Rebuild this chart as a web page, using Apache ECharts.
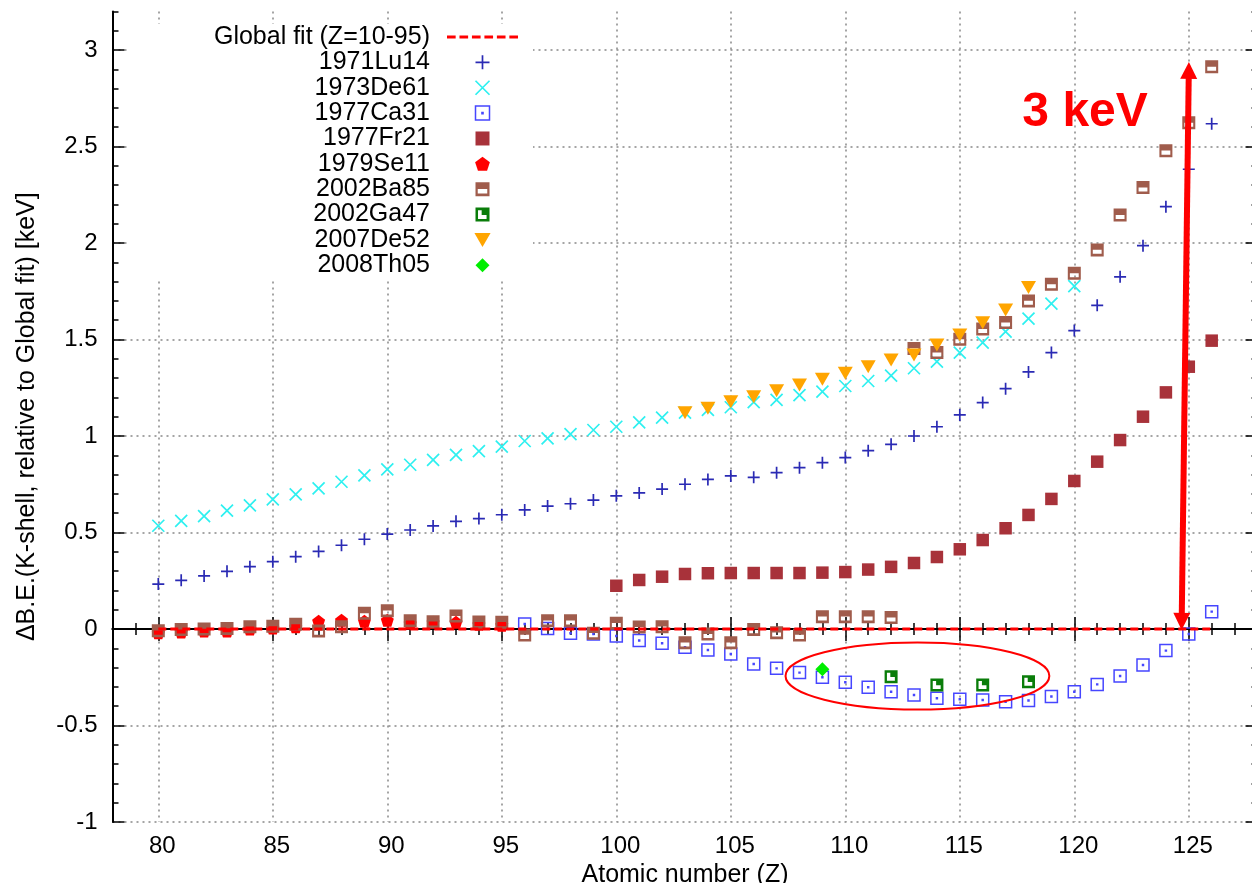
<!DOCTYPE html>
<html><head><meta charset="utf-8">
<script src="https://cdn.jsdelivr.net/npm/echarts@6/dist/echarts.min.js"></script>
<style>html,body{margin:0;padding:0;background:#fff}#chart{width:1252px;height:883px}</style>
</head><body><div id="chart"></div>
<script>
// ---------- tick labels ----------
const xTickLabels = [80, 85, 90, 95, 100, 105, 110, 115, 120, 125];
const yTickLabels = [-1, -0.5, 0, 0.5, 1, 1.5, 2, 2.5, 3];

// ---------- series data ----------
const fitZ = [80, 126];
const fitValues = [0, 0];

const lu14Z = [80,81,82,83,84,85,86,87,88,89,90,91,92,93,94,95,96,97,98,99,100,101,102,103,104,105,106,107,108,109,110,111,112,113,114,115,116,117,118,119,120,121,122,123,124,125,126];
const lu14Values = [0.233,0.252,0.275,0.299,0.323,0.349,0.375,0.402,0.434,0.465,0.492,0.513,0.534,0.558,0.572,0.592,0.617,0.637,0.649,0.668,0.690,0.705,0.725,0.750,0.775,0.793,0.786,0.810,0.836,0.862,0.888,0.924,0.957,1.000,1.048,1.109,1.173,1.245,1.332,1.432,1.546,1.677,1.825,1.986,2.188,2.382,2.618];

const de61Z = [80,81,82,83,84,85,86,87,88,89,90,91,92,93,94,95,96,97,98,99,100,101,102,103,104,105,106,107,108,109,110,111,112,113,114,115,116,117,118,119,120];
const de61Values = [0.535,0.560,0.585,0.613,0.641,0.672,0.698,0.729,0.763,0.796,0.827,0.851,0.876,0.902,0.922,0.945,0.974,0.988,1.010,1.031,1.048,1.071,1.095,1.121,1.135,1.149,1.175,1.187,1.212,1.230,1.259,1.285,1.313,1.351,1.385,1.432,1.484,1.541,1.608,1.686,1.777];

const ca31Z = [96,97,98,99,100,101,102,103,104,105,106,107,108,109,110,111,112,113,114,115,116,117,118,119,120,121,122,123,124,125,126];
const ca31Values = [0.026,0.003,-0.022,-0.026,-0.036,-0.060,-0.074,-0.095,-0.109,-0.130,-0.181,-0.204,-0.226,-0.250,-0.276,-0.302,-0.325,-0.342,-0.359,-0.364,-0.368,-0.377,-0.371,-0.350,-0.325,-0.287,-0.244,-0.187,-0.112,-0.026,0.090];

const fr21Z = [100,101,102,103,104,105,106,107,108,109,110,111,112,113,114,115,116,117,118,119,120,121,122,123,124,125,126];
const fr21Values = [0.224,0.254,0.271,0.285,0.289,0.290,0.290,0.290,0.290,0.292,0.295,0.308,0.322,0.342,0.373,0.413,0.461,0.522,0.591,0.674,0.767,0.867,0.979,1.100,1.226,1.359,1.494];

const se11Z = [80,81,82,83,84,85,86,87,88,89,90,91,92,93,94,95];
const se11Values = [-0.020,-0.015,-0.010,-0.010,0.000,0.005,0.012,0.040,0.045,0.040,0.045,0.030,0.035,0.035,0.025,0.020];

const ba85Z = [80,81,82,83,84,85,86,87,88,89,90,91,92,93,94,95,96,97,98,99,100,101,102,103,104,105,106,107,108,109,110,111,112,113,114,115,116,117,118,119,120,121,122,123,124,125,126];
const ba85Values = [-0.009,-0.003,0.000,0.003,0.012,0.014,0.024,-0.010,0.012,0.081,0.095,0.043,0.038,0.067,0.036,0.035,-0.031,0.043,0.043,-0.022,0.030,0.010,0.012,-0.071,-0.026,-0.071,-0.002,-0.019,-0.031,0.064,0.064,0.064,0.059,1.454,1.432,1.501,1.554,1.588,1.700,1.786,1.843,1.964,2.145,2.287,2.478,2.623,2.913];

const ga47Z = [112, 114, 116, 118];
const ga47Values = [-0.247, -0.290, -0.290, -0.273];

const de52Z = [103,104,105,106,107,108,109,110,111,112,113,114,115,116,117,118];
const de52Values = [1.121,1.144,1.178,1.204,1.235,1.264,1.294,1.325,1.359,1.394,1.420,1.472,1.523,1.587,1.653,1.769];

const th05Z = [109];
const th05Values = [-0.209];

// ---------- annotations (data coordinates) ----------
const annotTexts = ['3 keV'];
const annotTextPos = [[120.47, 2.677]];
const ellipseSpec = [[113.15, -0.2435, 5.76, 0.1736]]; // centre Z, centre value, radius Z, radius value
const arrowEnds = [[125.0, 2.894], [124.69, 0.039]];

// ---------- helpers / styles ----------
const pts = (zs, vs) => zs.map((z, i) => [z, vs[i]]);
const FONT = "'Liberation Sans', Arial, Helvetica, sans-serif";

const SYM_PLUS  = 'path://M5,0V10M0,5H10';
const SYM_CROSS = 'path://M0,0L10,10M10,0L0,10';
const SYM_OSQ   = 'path://M0,0H10V10H0Z M4.6,4.6H5.4V5.4H4.6Z';
const SYM_SQ    = 'path://M0,0H10V10H0Z';
const SYM_HSQ   = 'path://M0,0H10V10H0Z M1.6,4.9V8H8.4V4.9Z';
const SYM_LSQ   = 'path://M0,0H10V10H0Z M1.8,1.9V8.1H7.9V5.3H4.4V1.9Z';
const SYM_PENT  = 'path://M5,0L10,3.63L8.09,9.51H1.91L0,3.63Z';
const SYM_DTRI  = 'path://M0,0H10L5,8.66Z';
const SYM_DIAM  = 'path://M5,0L10,5L5,10L0,5Z';
const DASH_ICON = 'path://M0,0h8.6v3h-8.6z M12.4,0h8.6v3h-8.6z M24.8,0h8.6v3h-8.6z M37.2,0h8.6v3h-8.6z M49.6,0h8.6v3h-8.6z M62,0h8.6v3h-8.6z';

const gridRect = {left: 112.5, right: -5.5, top: 11.4, bottom: 61, outerBoundsMode: 'none', containLabel: false};
const axisLineStyle = {show: true, lineStyle: {color: '#000', width: 2}};

function majorX(pos, withLabels) {
  return {
    type: 'value', gridIndex: 0, position: pos, min: 78, max: 128,
    axisLine: axisLineStyle,
    axisTick: {show: true, inside: true, length: 12, customValues: xTickLabels, lineStyle: {color: '#000', width: 1.5}},
    axisLabel: withLabels ? {show: true, customValues: xTickLabels, fontSize: 24, fontFamily: FONT, color: '#000', margin: 12, padding: [0, 0, 0, 8]} : {show: false},
    splitLine: withLabels ? {show: true, lineStyle: {color: '#888', width: 1.5, type: [2, 4]}} : {show: false},
    name: withLabels ? 'Atomic number (Z)' : '',
    nameLocation: 'middle', nameGap: 36,
    nameTextStyle: {fontSize: 25, fontFamily: FONT, color: '#000'}
  };
}
function majorY(pos, withLabels) {
  return {
    type: 'value', gridIndex: 0, position: pos, min: -1, max: 3.2,
    axisLine: axisLineStyle,
    axisTick: {show: true, inside: true, length: 12, customValues: yTickLabels, lineStyle: {color: '#000', width: 1.5}},
    axisLabel: withLabels ? {show: true, customValues: yTickLabels, fontSize: 24, fontFamily: FONT, color: '#000', margin: 15} : {show: false},
    splitLine: withLabels ? {show: true, lineStyle: {color: '#888', width: 1.5, type: [2, 4]}} : {show: false},
    name: withLabels ? 'ΔB.E.(K-shell, relative to Global fit) [keV]' : '',
    nameLocation: 'middle', nameGap: 73, nameRotate: 90,
    nameTextStyle: {fontSize: 25, fontFamily: FONT, color: '#000'}
  };
}
function minorX(pos) {
  return {
    type: 'value', gridIndex: 1, position: pos, min: 78, max: 128, interval: 1,
    axisLine: {show: false},
    axisTick: {show: true, inside: true, length: 6, lineStyle: {color: '#000', width: 1.5}},
    axisLabel: {show: false}, splitLine: {show: false}
  };
}
function minorY(pos) {
  return {
    type: 'value', gridIndex: 1, position: pos, min: -1, max: 3.2, interval: 0.1,
    axisLine: {show: false},
    axisTick: {show: true, inside: true, length: 6, lineStyle: {color: '#000', width: 1.5}},
    axisLabel: {show: false}, splitLine: {show: false}
  };
}

function scatter(name, zs, vs, symbol, size, style) {
  return {
    name, type: 'scatter', xAxisIndex: 0, yAxisIndex: 0,
    data: pts(zs, vs), symbol, symbolSize: size,
    itemStyle: Object.assign({opacity: 1}, style),
    emphasis: {disabled: true}
  };
}

const chart = echarts.init(document.getElementById('chart'), null, {renderer: 'canvas'});
chart.setOption({
  animation: false,
  backgroundColor: '#fff',
  grid: [Object.assign({}, gridRect), Object.assign({}, gridRect)],
  xAxis: [majorX('bottom', true), majorX('top', false), minorX('bottom'), minorX('top')],
  yAxis: [majorY('left', true), majorY('right', false), minorY('left'), minorY('right')],
  legend: {
    orient: 'vertical', align: 'right', right: 719, top: 24,
    padding: [0.5, 15, 1, 86], backgroundColor: '#fff',
    itemWidth: 71, itemHeight: 14, itemGap: 0.37, selectedMode: false,
    textStyle: {fontSize: 25, fontFamily: FONT, color: '#000', lineHeight: 25, padding: [0, 12, 0, 0]},
    itemStyle: {borderWidth: 'inherit'},
    data: [
      {name: 'Global fit (Z=10-95)', icon: DASH_ICON},
      '1971Lu14', '1973De61', '1977Ca31', '1977Fr21', '1979Se11', '2002Ba85', '2002Ga47', '2007De52', '2008Th05'
    ]
  },
  series: [
    {
      name: 'Global fit (Z=10-95)', type: 'line', xAxisIndex: 0, yAxisIndex: 0,
      data: pts(fitZ, fitValues), symbol: 'none', showSymbol: false,
      lineStyle: {color: '#ff0000', width: 3, type: [8, 4]},
      itemStyle: {color: '#ff0000'},
      emphasis: {disabled: true},
      markLine: {
        silent: true, symbol: ['triangle', 'triangle'], symbolSize: [17, 17],
        label: {show: false},
        lineStyle: {color: '#ff0000', width: 6, type: 'solid'},
        itemStyle: {color: '#ff0000'},
        data: [[{coord: arrowEnds[0]}, {coord: arrowEnds[1]}]]
      }
    },
    scatter('1971Lu14', lu14Z, lu14Values, SYM_PLUS, 12, {color: 'transparent', borderColor: '#2a2ab4', borderWidth: 1.7}),
    scatter('1973De61', de61Z, de61Values, SYM_CROSS, 12, {color: 'transparent', borderColor: '#2ef0f0', borderWidth: 1.7}),
    scatter('1977Ca31', ca31Z, ca31Values, SYM_OSQ, 12, {color: 'transparent', borderColor: '#4646ff', borderWidth: 1.5}),
    scatter('1977Fr21', fr21Z, fr21Values, SYM_SQ, 12.5, {color: '#a8323a'}),
    scatter('1979Se11', se11Z, se11Values, SYM_PENT, 13, {color: '#ff0000'}),
    scatter('2002Ba85', ba85Z, ba85Values, SYM_HSQ, 13, {color: '#a05c4c'}),
    scatter('2002Ga47', ga47Z, ga47Values, SYM_LSQ, 13, {color: '#0a7d0a'}),
    scatter('2007De52', de52Z, de52Values, SYM_DTRI, [15, 13], {color: '#ffa500'}),
    scatter('2008Th05', th05Z, th05Values, SYM_DIAM, 14, {color: '#00ee00'}),
    {
      type: 'custom', name: 'ellipse-annot', xAxisIndex: 0, yAxisIndex: 0, silent: true, z: 3,
      data: ellipseSpec,
      renderItem: function (params, api) {
        const c = api.coord([api.value(0), api.value(1)]);
        const s = api.size([api.value(2), api.value(3)]);
        return {type: 'ellipse', shape: {cx: c[0], cy: c[1], rx: s[0], ry: s[1]},
          style: {fill: 'none', stroke: '#ff0000', lineWidth: 2}};
      }
    },
    {
      type: 'custom', name: 'text-annot', xAxisIndex: 0, yAxisIndex: 0, silent: true, z: 3,
      data: annotTextPos.map((p, i) => [p[0], p[1], i]),
      renderItem: function (params, api) {
        const c = api.coord([api.value(0), api.value(1)]);
        return {type: 'text', x: c[0], y: c[1],
          style: {text: annotTexts[api.value(2)], fill: '#ff0000', fontSize: 48, fontWeight: 'bold',
            fontFamily: FONT, align: 'center', verticalAlign: 'middle'}};
      }
    }
  ]
});
</script>
</body></html>
